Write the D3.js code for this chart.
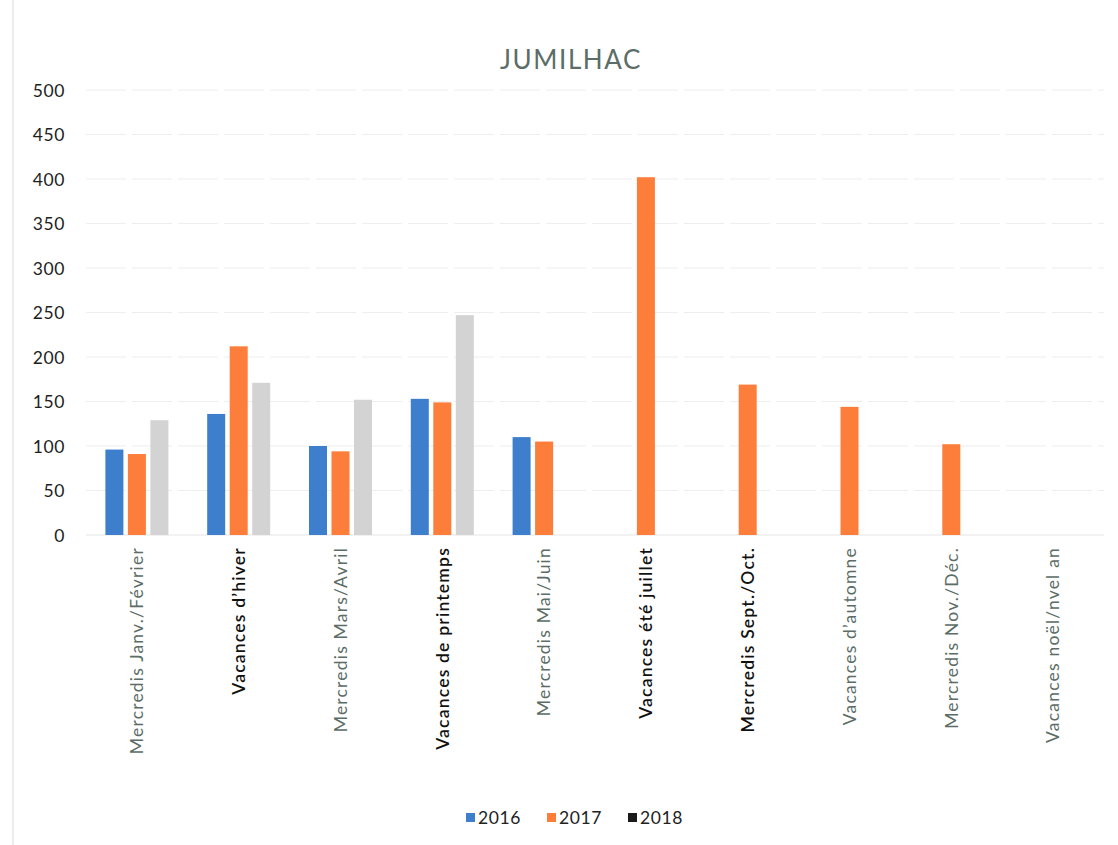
<!DOCTYPE html>
<html>
<head>
<meta charset="utf-8">
<script src="https://cdn.jsdelivr.net/npm/d3@7"></script>
<style>
  html, body { margin: 0; padding: 0; background: #fff; }
  svg { display: block; }
</style>
</head>
<body>
<svg id="chart" width="1118" height="845"></svg>
<script>
// Periods of the year (x categories)
const categories = [
  "Mercredis Janv./Février",
  "Vacances d’hiver",
  "Mercredis Mars/Avril",
  "Vacances de printemps",
  "Mercredis Mai/Juin",
  "Vacances été juillet",
  "Mercredis Sept./Oct.",
  "Vacances d’automne",
  "Mercredis Nov./Déc.",
  "Vacances noël/nvel an"
];
// Label colour class per category: true = dark, false = grey-green
const labelDark = [false, true, false, true, false, true, true, false, false, false];

const years = ["2016", "2017", "2018"];
const values2016 = [96, 136, 100, 153, 110, null, null, null, null, null];
const values2017 = [91, 212, 94, 149, 105, 402, 169, 144, 102, null];
const values2018 = [129, 171, 152, 247, null, null, null, null, null, null];
const seriesValues = [values2016, values2017, values2018];

const yTicks = [0, 50, 100, 150, 200, 250, 300, 350, 400, 450, 500];

const barColors = ["#3d7fcc", "#fd7d3a", "#d3d3d3"];
const legendColors = ["#3d7fcc", "#fd7d3a", "#1a1a1a"];

const svg = d3.select("#chart");
const font = "Lato, 'Open Sans', sans-serif";

const plotLeft = 86, plotRight = 1104, plotTop = 90, plotBottom = 535;

const y = d3.scaleLinear().domain([0, 500]).range([plotBottom, plotTop]);
const x0 = d3.scaleBand().domain(categories).range([plotLeft, plotRight])
  .paddingInner(0.381).paddingOuter(0.1905);
const x1 = d3.scaleBand().domain(years).range([0, x0.bandwidth()])
  .paddingInner(0.2).paddingOuter(0);

// faint page edge
svg.append("line").attr("x1", 13).attr("x2", 13).attr("y1", 0).attr("y2", 845)
  .attr("stroke", "#ececec").attr("stroke-width", 2);

// Title
svg.append("text").attr("x", 571).attr("y", 69).attr("text-anchor", "middle")
  .attr("font-family", font).attr("font-size", 26).attr("fill", "#5b6d66")
  .attr("letter-spacing", 1.6).text("JUMILHAC");

// Gridlines
svg.append("g").selectAll("line").data(yTicks.filter(d => d > 0)).join("line")
  .attr("x1", plotLeft).attr("x2", plotRight)
  .attr("y1", d => y(d)).attr("y2", d => y(d))
  .attr("stroke", "#eeeeee").attr("stroke-width", 1.2)
  .attr("stroke-dasharray", "40,6");

// baseline
svg.append("line").attr("x1", plotLeft).attr("x2", plotRight)
  .attr("y1", y(0)).attr("y2", y(0))
  .attr("stroke", "#e6e6e6").attr("stroke-width", 1.2);

// Y axis labels
const yAxis = d3.axisLeft(y).tickValues(yTicks).tickSize(0).tickPadding(0);
const gy = svg.append("g").attr("transform", "translate(65,0)").call(yAxis);
gy.select(".domain").remove();
gy.selectAll("text").attr("font-family", font).attr("font-size", 17.5)
  .attr("letter-spacing", 0.6)
  .attr("fill", "#1e1e1e").attr("dy", "0.36em");

// Bars
const groups = svg.append("g").selectAll("g").data(categories).join("g")
  .attr("transform", c => `translate(${x0(c)},0)`);
groups.selectAll("rect")
  .data((c, i) => years.map((yr, s) => ({ yr, s, v: seriesValues[s][i] })).filter(d => d.v != null))
  .join("rect")
  .attr("x", d => x1(d.yr))
  .attr("width", x1.bandwidth())
  .attr("y", d => y(d.v))
  .attr("height", d => y(0) - y(d.v))
  .attr("fill", d => barColors[d.s]);

// X axis labels, rotated
const xAxis = d3.axisBottom(x0).tickSize(0).tickPadding(0);
const gx = svg.append("g").attr("transform", `translate(0,${plotBottom})`).call(xAxis);
gx.select(".domain").remove();
gx.selectAll(".tick text")
  .attr("transform", "rotate(-90)")
  .attr("x", -12).attr("y", 0).attr("dy", "0.36em")
  .attr("text-anchor", "end")
  .attr("font-family", font).attr("font-size", 17.5)
  .attr("letter-spacing", 1.2)
  .attr("font-weight", (d, i) => labelDark[i] ? 600 : 400)
  .attr("fill", (d, i) => labelDark[i] ? "#111" : "#5b6d66");

// Legend
const legendX = [466, 547, 628];
const lg = svg.append("g").selectAll("g").data(years).join("g")
  .attr("transform", (d, i) => `translate(${legendX[i]},818)`);
lg.append("rect").attr("x", 0).attr("y", -5).attr("width", 9).attr("height", 9)
  .attr("fill", (d, i) => legendColors[i]);
lg.append("text").attr("x", 12).attr("y", 0).attr("dy", "0.36em")
  .attr("font-family", font).attr("font-size", 17.5).attr("fill", "#222")
  .attr("letter-spacing", 0.6)
  .text(d => d);
</script>
</body>
</html>
